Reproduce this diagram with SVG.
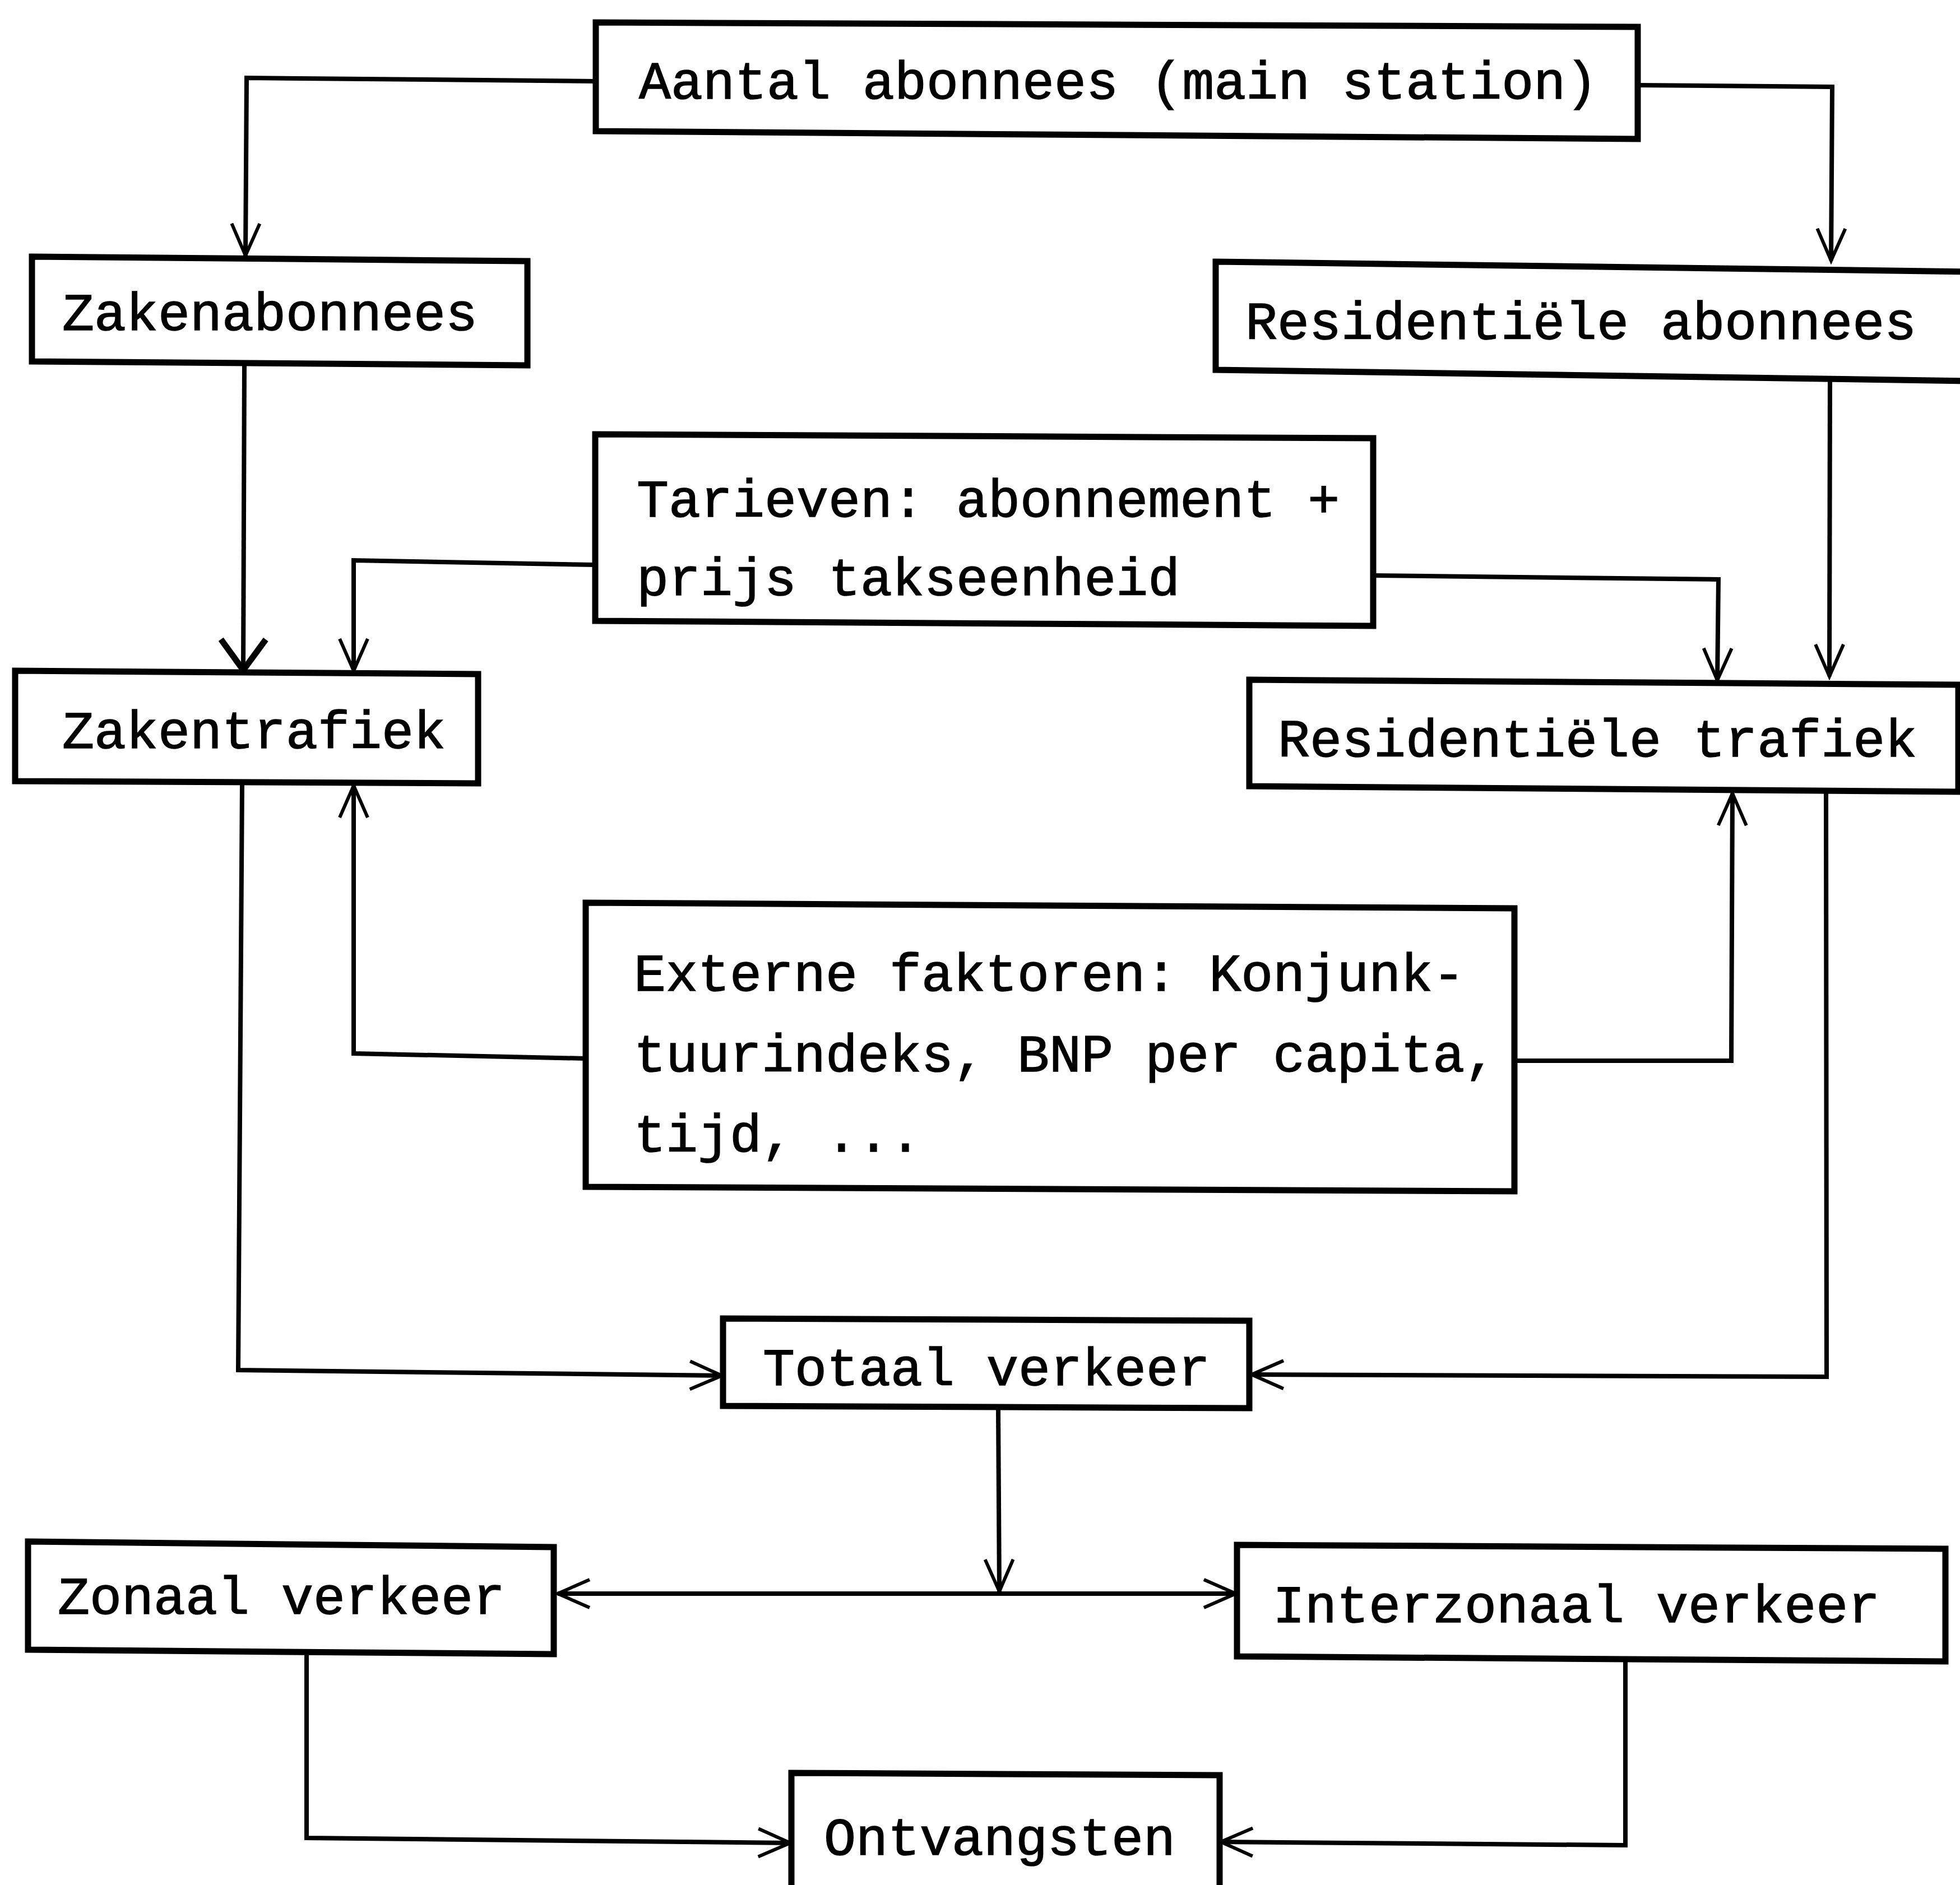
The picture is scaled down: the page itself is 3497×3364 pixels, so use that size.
<svg xmlns="http://www.w3.org/2000/svg" width="3497" height="3364" viewBox="0 0 3497 3364">
<style>
.box{fill:#fff;stroke:#000;stroke-width:11;stroke-linejoin:miter}
.lbl{font-family:"Liberation Mono","DejaVu Sans Mono",monospace;font-size:95px;fill:#000;stroke:#000;stroke-width:1.5}
.con{fill:none;stroke:#000;stroke-width:8;stroke-linejoin:miter}
</style>
<defs>
<marker id="arr" markerUnits="userSpaceOnUse" markerWidth="90" markerHeight="90" viewBox="-70 -45 80 90" refX="0" refY="0" orient="auto-start-reverse" overflow="visible">
<path d="M-57,-25 L0,0 L-57,25" fill="none" stroke="#000" stroke-width="6"/>
</marker>
<marker id="arrBig" markerUnits="userSpaceOnUse" markerWidth="110" markerHeight="110" viewBox="-80 -55 90 110" refX="0" refY="0" orient="auto" overflow="visible">
<path d="M-55,-40 L0,0 L-55,40" fill="none" stroke="#000" stroke-width="11"/>
</marker>
</defs>
<rect width="3497" height="3364" fill="#fff"/>

<g id="connectors">
<path class="con" d="M1063,145 L440,139 L438,456" marker-end="url(#arr)"/>
<path class="con" d="M2922,152 L3269,155 L3267,465" marker-end="url(#arr)"/>
<path class="con" d="M436,652 L434,1196" marker-end="url(#arrBig)"/>
<path class="con" d="M1062,1008 L631,1000 L631,1197" marker-end="url(#arr)"/>
<path class="con" d="M2450,1027 L3066,1034 L3064,1214" marker-end="url(#arr)"/>
<path class="con" d="M3265,677 L3264,1207" marker-end="url(#arr)"/>
<path class="con" d="M1045,1889 L631,1880 L631,1402" marker-end="url(#arr)"/>
<path class="con" d="M2702,1893 L3089,1893 L3091,1416" marker-end="url(#arr)"/>
<path class="con" d="M432,1398 L425,2445 L1288,2455" marker-end="url(#arr)"/>
<path class="con" d="M3258,1413 L3259,2457 L2233,2453" marker-end="url(#arr)"/>
<path class="con" d="M1781,2513 L1783,2840" marker-end="url(#arr)"/>
<path class="con" d="M995,2844 L2205,2844" marker-start="url(#arr)" marker-end="url(#arr)"/>
<path class="con" d="M547,2952 L547,3280 L1410,3289" marker-end="url(#arr)"/>
<path class="con" d="M2900,2963 L2900,3293 L2178,3287" marker-end="url(#arr)"/>
</g>

<g id="n-aantal">
<polygon class="box" points="1063,40 2922,48 2922,248 1063,234"/>
<text class="lbl" x="1140" y="176">Aantal abonnees (main station)</text>
</g>
<g id="n-zakenabonnees">
<polygon class="box" points="57,458 941,466 941,652 57,645"/>
<text class="lbl" x="111" y="589">Zakenabonnees</text>
</g>
<g id="n-resabonnees">
<polygon class="box" points="2169,467 3520,485 3520,680 2169,660"/>
<text class="lbl" x="2222" y="605">Residentiële abonnees</text>
</g>
<g id="n-tarieven">
<polygon class="box" points="1062,775 2450,782 2450,1117 1062,1108"/>
<text class="lbl" x="1136" y="922">Tarieven: abonnement +</text>
<text class="lbl" x="1136" y="1062">prijs takseenheid</text>
</g>
<g id="n-zakentrafiek">
<polygon class="box" points="27,1197 853,1203 853,1398 27,1394"/>
<text class="lbl" x="111" y="1335">Zakentrafiek</text>
</g>
<g id="n-restrafiek">
<polygon class="box" points="2229,1213 3494,1222 3494,1413 2229,1403"/>
<text class="lbl" x="2280" y="1350">Residentiële trafiek</text>
</g>
<g id="n-externe">
<polygon class="box" points="1045,1611 2702,1621 2702,2126 1045,2118"/>
<text class="lbl" x="1131" y="1768">Externe faktoren: Konjunk-</text>
<text class="lbl" x="1131" y="1912">tuurindeks, BNP per capita,</text>
<text class="lbl" x="1131" y="2055">tijd, ...</text>
</g>
<g id="n-totaal">
<polygon class="box" points="1290,2353 2229,2357 2229,2513 1290,2509"/>
<text class="lbl" x="1361" y="2472">Totaal verkeer</text>
</g>
<g id="n-zonaal">
<polygon class="box" points="50,2751 988,2761 988,2952 50,2944"/>
<text class="lbl" x="103" y="2880">Zonaal verkeer</text>
</g>
<g id="n-interzonaal">
<polygon class="box" points="2207,2757 3471,2764 3471,2965 2207,2956"/>
<text class="lbl" x="2271" y="2895">Interzonaal verkeer</text>
</g>
<g id="n-ontvangsten">
<polygon class="box" points="1412,3164 2176,3168 2176,3390 1412,3390"/>
<text class="lbl" x="1470" y="3310">Ontvangsten</text>
</g>
</svg>
